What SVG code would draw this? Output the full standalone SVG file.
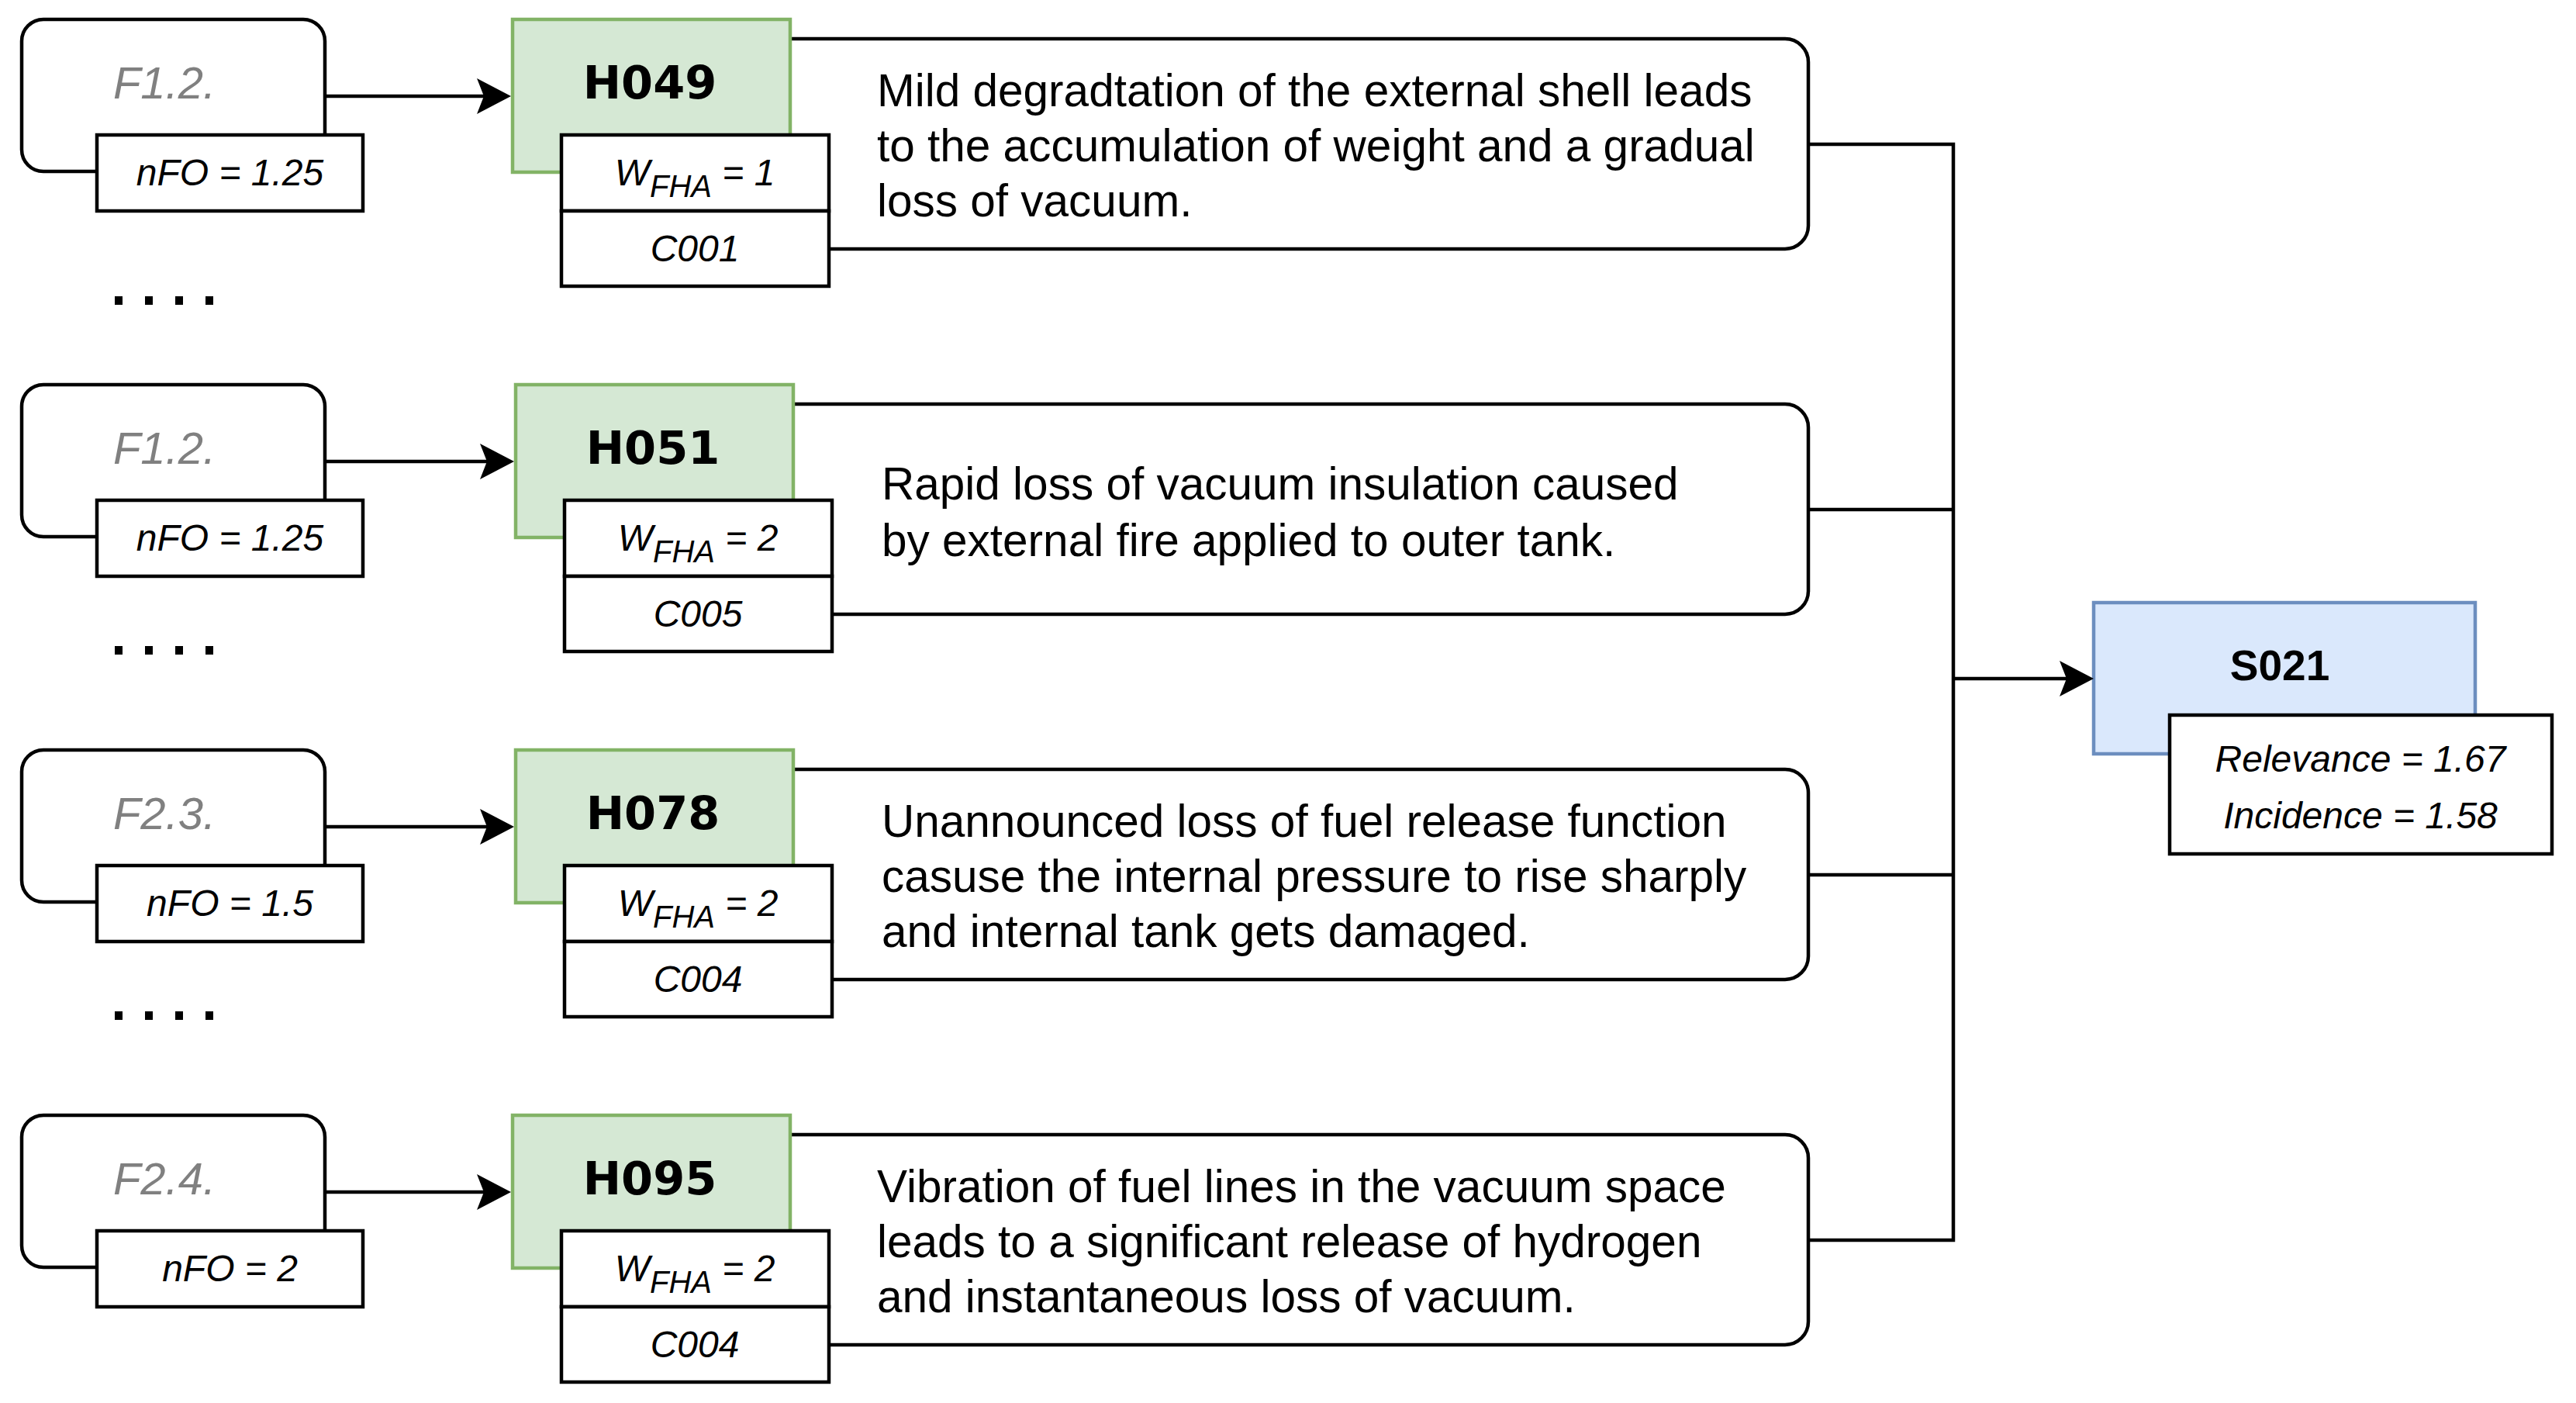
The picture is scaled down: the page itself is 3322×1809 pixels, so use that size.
<svg xmlns="http://www.w3.org/2000/svg" width="3322" height="1809" viewBox="0 0 3322 1809">
<style>
.box{fill:#fff;stroke:#000;stroke-width:4.5}
.fbox{fill:none;stroke:#000;stroke-width:4.5}
.hbox{fill:#d5e8d4;stroke:#82b366;stroke-width:4.5}
.sbox{fill:#dae8fc;stroke:#6c8ebf;stroke-width:4.5}
.conn{fill:none;stroke:#000;stroke-width:4.5}
.dots{fill:none;stroke:#000;stroke-width:11;stroke-dasharray:10 29}
.body{font-family:"Liberation Sans",Arial,sans-serif;font-size:58.5px;fill:#000}
.small{font-family:"Liberation Sans",Arial,sans-serif;font-size:48px;font-style:italic;text-anchor:middle;fill:#000}
.ftxt{font-family:"Liberation Sans",Arial,sans-serif;font-size:58px;font-style:italic;text-anchor:middle;fill:#808080}
.htxt{font-family:"DejaVu Sans",Verdana,sans-serif;font-size:59px;font-weight:bold;text-anchor:middle;fill:#000}
.stxt{font-family:"Liberation Sans",Arial,sans-serif;font-size:55px;font-weight:bold;text-anchor:middle;fill:#000}
.sub{font-size:40px}
</style>
<defs>
<marker id="arr" markerUnits="userSpaceOnUse" markerWidth="48" markerHeight="48" refX="33" refY="23" orient="auto">
<path d="M0,0 L44,23 L0,46 L9,23 Z" fill="#000"/>
</marker>
</defs>
<rect width="3322" height="1809" fill="#fff"/>

<!-- Row 1 -->
<g id="desc1"><rect class="box" x="990" y="50" width="1342" height="271" rx="30"/>
<text class="body" x="1131" y="137">Mild degradtation of the external shell leads</text>
<text class="body" x="1131" y="208">to the accumulation of weight and a gradual</text>
<text class="body" x="1131" y="279">loss of vacuum.</text></g>
<g id="F1"><rect class="fbox" x="28" y="25" width="391" height="196" rx="28"/><text class="ftxt" x="212" y="127">F1.2.</text></g>
<g id="nFO1"><rect class="box" x="125" y="174" width="343" height="98"/><text class="small" x="296.5" y="239">nFO = 1.25</text></g>
<g id="H049"><rect class="hbox" x="661" y="25" width="358" height="197"/><text class="htxt" x="838" y="127">H049</text></g>
<g id="W1"><rect class="box" x="724" y="174" width="345" height="98"/><text class="small" x="896" y="239">W<tspan class="sub" dy="15">FHA</tspan><tspan dy="-15"> = 1</tspan></text></g>
<g id="C1"><rect class="box" x="724" y="272" width="345" height="97"/><text class="small" x="896" y="337">C001</text></g>

<!-- Row 2 -->
<g id="desc2"><rect class="box" x="990" y="521" width="1342" height="271" rx="30"/>
<text class="body" x="1137" y="644">Rapid loss of vacuum insulation caused</text>
<text class="body" x="1137" y="717">by external fire applied to outer tank.</text></g>
<g id="F2"><rect class="fbox" x="28" y="496" width="391" height="196" rx="28"/><text class="ftxt" x="212" y="598">F1.2.</text></g>
<g id="nFO2"><rect class="box" x="125" y="645" width="343" height="98"/><text class="small" x="296.5" y="710">nFO = 1.25</text></g>
<g id="H051"><rect class="hbox" x="665" y="496" width="358" height="197"/><text class="htxt" x="842" y="598">H051</text></g>
<g id="W2"><rect class="box" x="728" y="645" width="345" height="98"/><text class="small" x="900" y="710">W<tspan class="sub" dy="15">FHA</tspan><tspan dy="-15"> = 2</tspan></text></g>
<g id="C2"><rect class="box" x="728" y="743" width="345" height="97"/><text class="small" x="900" y="808">C005</text></g>

<!-- Row 3 -->
<g id="desc3"><rect class="box" x="990" y="992" width="1342" height="271" rx="30"/>
<text class="body" x="1137" y="1079">Unannounced loss of fuel release function</text>
<text class="body" x="1137" y="1150">casuse the internal pressure to rise sharply</text>
<text class="body" x="1137" y="1221">and internal tank gets damaged.</text></g>
<g id="F3"><rect class="fbox" x="28" y="967" width="391" height="196" rx="28"/><text class="ftxt" x="212" y="1069">F2.3.</text></g>
<g id="nFO3"><rect class="box" x="125" y="1116" width="343" height="98"/><text class="small" x="296.5" y="1181">nFO = 1.5</text></g>
<g id="H078"><rect class="hbox" x="665" y="967" width="358" height="197"/><text class="htxt" x="842" y="1069">H078</text></g>
<g id="W3"><rect class="box" x="728" y="1116" width="345" height="98"/><text class="small" x="900" y="1181">W<tspan class="sub" dy="15">FHA</tspan><tspan dy="-15"> = 2</tspan></text></g>
<g id="C3"><rect class="box" x="728" y="1214" width="345" height="97"/><text class="small" x="900" y="1279">C004</text></g>

<!-- Row 4 -->
<g id="desc4"><rect class="box" x="990" y="1463" width="1342" height="271" rx="30"/>
<text class="body" x="1131" y="1550">Vibration of fuel lines in the vacuum space</text>
<text class="body" x="1131" y="1621">leads to a significant release of hydrogen</text>
<text class="body" x="1131" y="1692">and instantaneous loss of vacuum.</text></g>
<g id="F4"><rect class="fbox" x="28" y="1438" width="391" height="196" rx="28"/><text class="ftxt" x="212" y="1540">F2.4.</text></g>
<g id="nFO4"><rect class="box" x="125" y="1587" width="343" height="98"/><text class="small" x="296.5" y="1652">nFO = 2</text></g>
<g id="H095"><rect class="hbox" x="661" y="1438" width="358" height="197"/><text class="htxt" x="838" y="1540">H095</text></g>
<g id="W4"><rect class="box" x="724" y="1587" width="345" height="98"/><text class="small" x="896" y="1652">W<tspan class="sub" dy="15">FHA</tspan><tspan dy="-15"> = 2</tspan></text></g>
<g id="C4"><rect class="box" x="724" y="1685" width="345" height="97"/><text class="small" x="896" y="1750">C004</text></g>

<!-- S021 -->
<g id="S021"><rect class="sbox" x="2700" y="777" width="492" height="195"/><text class="stxt" x="2940" y="877">S021</text></g>
<g id="S021metrics"><rect class="box" x="2798" y="922" width="493" height="179"/>
<text class="small" x="3044" y="995">Relevance = 1.67</text>
<text class="small" x="3044" y="1068">Incidence = 1.58</text></g>

<!-- ellipsis marks -->
<g id="ellipses">
<path class="dots" d="M148,387.5 H275"/>
<path class="dots" d="M148,838.5 H275"/>
<path class="dots" d="M148,1309.5 H275"/>
</g>

<!-- connectors -->
<g id="connectors">
<path class="conn" d="M419,124 H648" marker-end="url(#arr)"/>
<path class="conn" d="M419,595 H652" marker-end="url(#arr)"/>
<path class="conn" d="M419,1066 H652" marker-end="url(#arr)"/>
<path class="conn" d="M419,1537 H648" marker-end="url(#arr)"/>
<path class="conn" d="M2332,186 H2519 V1599 H2332"/>
<path class="conn" d="M2332,657 H2519"/>
<path class="conn" d="M2332,1128 H2519"/>
<path class="conn" d="M2519,875 H2689" marker-end="url(#arr)"/>
</g>
</svg>
